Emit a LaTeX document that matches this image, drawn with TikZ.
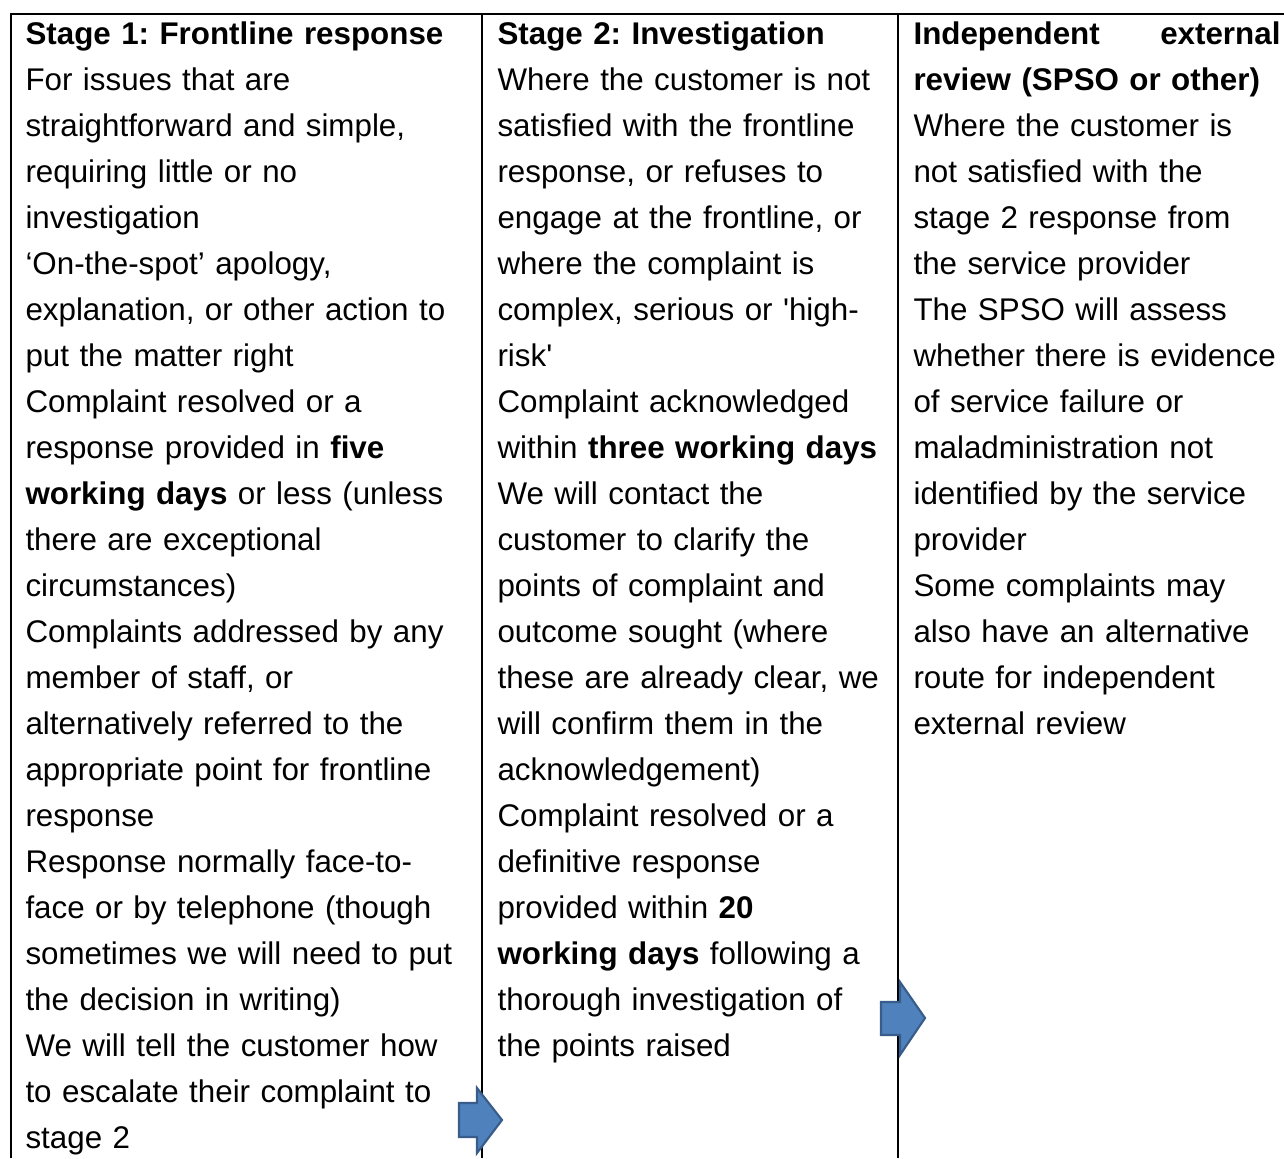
\documentclass[tikz,border=0pt]{standalone}
\usepackage{fontspec}
\setmainfont{Liberation Sans}
\frenchspacing
\definecolor{arrowfill}{HTML}{4F81BD}
\definecolor{arrowline}{HTML}{385D8A}

\begin{document}
\begin{tikzpicture}[x=0.375pt,y=-0.375pt,
  cell/.style={anchor=base west,inner sep=0pt,align=left,text width=175pt,font=\fontsize{11.75pt}{17.25pt}\selectfont},
  rule/.style={line width=0.75pt},
  blockarrow/.style={fill=arrowfill,draw=arrowline,line width=0.8pt,line join=miter}]
\useasboundingbox (0,0) rectangle (1284,1158);

 \node[cell](stage1) at (25,44){\textbf{Stage 1: Frontline response}\\
 For issues that are\\
 straightforward and simple,\\
 requiring little or no\\
 investigation\\
 ‘On-the-spot’ apology,\\
 explanation, or other action to\\
 put the matter right\\
 Complaint resolved or a\\
 response provided in \textbf{five}\\
 \textbf{working days} or less (unless\\
 there are exceptional\\
 circumstances)\\
 Complaints addressed by any\\
 member of staff, or\\
 alternatively referred to the\\
 appropriate point for frontline\\
 response\\
 Response normally face-to-\\
 face or by telephone (though\\
 sometimes we will need to put\\
 the decision in writing)\\
 We will tell the customer how\\
 to escalate their complaint to\\
 stage 2};

 \node[cell](stage2) at (497,44){\textbf{Stage 2: Investigation}\\
 Where the customer is not\\
 satisfied with the frontline\\
 response, or refuses to\\
 engage at the frontline, or\\
 where the complaint is\\
 complex, serious or \textquotesingle high-\\
 risk\textquotesingle\\
 Complaint acknowledged\\
 within \textbf{three working days}\\
 We will contact the\\
 customer to clarify the\\
 points of complaint and\\
 outcome sought (where\\
 these are already clear, we\\
 will confirm them in the\\
 acknowledgement)\\
 Complaint resolved or a\\
 definitive response\\
 provided within \textbf{20}\\
 \textbf{working days} following a\\
 thorough investigation of\\
 the points raised};

 \node[cell](review) at (913,44){\makebox[137.6pt]{\textbf{Independent}\hfill\textbf{external}}\\
 \textbf{review (SPSO or other)}\\
 Where the customer is\\
 not satisfied with the\\
 stage 2 response from\\
 the service provider\\
 The SPSO will assess\\
 whether there is evidence\\
 of service failure or\\
 maladministration not\\
 identified by the service\\
 provider\\
 Some complaints may\\
 also have an alternative\\
 route for independent\\
 external review};

% table rules
 \draw [rule] (11,1158) -- (11,14) -- (1284,14);
 \draw [rule] (482,14) -- (482,1158);
 \draw [rule] (898,14) -- (898,1158);

% escalation arrows
 \draw [blockarrow] (459,1103) -- (477,1103) -- (477,1088) -- (502,1120) -- (477,1153) -- (477,1137) -- (459,1137) -- cycle;
 \draw [blockarrow] (881,1002) -- (900,1002) -- (900,982) -- (925,1018) -- (900,1055) -- (900,1035) -- (881,1035) -- cycle;

\end{tikzpicture}
\end{document}
